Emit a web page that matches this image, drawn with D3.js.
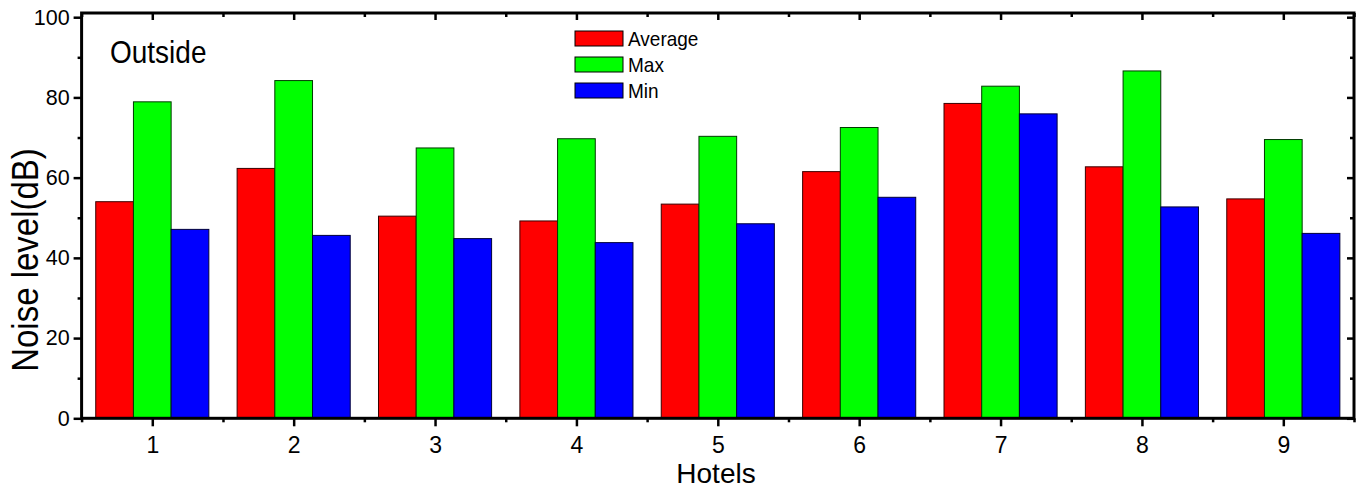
<!DOCTYPE html>
<html><head><meta charset="utf-8">
<script src="https://cdn.jsdelivr.net/npm/d3@7"></script>
<style>body{margin:0;background:#fff}svg{display:block}text{font-family:"Liberation Sans",Arial,sans-serif;fill:#000}</style>
</head><body>
<svg id="c" width="1360" height="489"></svg>
<script>
const categories = ["1","2","3","4","5","6","7","8","9"];
const seriesNames = ["Average","Max","Min"];
const average = [54.0, 62.3, 50.4, 49.2, 53.4, 61.5, 78.5, 62.7, 54.7];
const maxv    = [78.9, 84.2, 67.4, 69.7, 70.3, 72.5, 82.8, 86.6, 69.5];
const minv    = [47.1, 45.6, 44.8, 43.8, 48.5, 55.1, 75.9, 52.7, 46.1];
const yTicks = [0, 20, 40, 60, 80, 100];
const colors = ["#ff0000", "#00ff00", "#0000ff"];
const strokes = ["#3a0000", "#003a00", "#00003a"];

(function () {
const svg = d3.select("#c");
const L = 81.6, R = 1354, T = 13, B = 418.3;
const x = d3.scaleLinear().domain([0.5, 9.5]).range([L, R]);
const y = d3.scaleLinear().domain([0, 100]).range([B, 17.2]);
const groupW = (x(2) - x(1)) * 0.8;
const xs = d3.scaleBand().domain(seriesNames).range([-groupW/2, groupW/2]).padding(0);
const seriesVals = [average, maxv, minv];

seriesNames.forEach((s, si) => {
  svg.append("g").selectAll("rect").data(seriesVals[si]).join("rect")
    .attr("x", (d, i) => x(i + 1) + xs(s))
    .attr("y", d => y(d))
    .attr("width", xs.bandwidth())
    .attr("height", d => B - y(d))
    .attr("fill", colors[si])
    .attr("stroke", strokes[si])
    .attr("stroke-width", 1);
});

const majorX = categories.map((c, i) => i + 1);
const minorX = d3.range(0.5, 9.6, 1);
const minorY = d3.range(10, 100, 20);

function ax(axisFn, tx, ty, vals, size, fmt, fs, pad) {
  const a = axisFn.tickValues(vals).tickSize(size).tickPadding(pad || 4);
  a.tickFormat(fmt || "");
  const g = svg.append("g").attr("transform", `translate(${tx},${ty})`).call(a);
  g.select(".domain").remove();
  g.selectAll("line").attr("stroke-width", 2.5);
  if (fs) g.selectAll("text").attr("font-size", fs).attr("font-family", "Liberation Sans");
  return g;
}
ax(d3.axisBottom(x), 0, B, majorX, 8, (d, i) => categories[i], 23, 10);
ax(d3.axisBottom(x), 0, B, minorX, 4);
ax(d3.axisBottom(x), 0, T, majorX, 7);
ax(d3.axisBottom(x), 0, T, minorX, 4);
ax(d3.axisLeft(y), L, 0, yTicks, 8, d => d, 21.5, 4);
ax(d3.axisLeft(y), L, 0, minorY, 4);
ax(d3.axisLeft(y), R, 0, yTicks, 7);
ax(d3.axisLeft(y), R, 0, minorY, 4);

svg.append("rect").attr("x", L).attr("y", T).attr("width", R - L).attr("height", B - T)
  .attr("fill", "none").attr("stroke", "#000").attr("stroke-width", 3);

svg.append("text").attr("transform", "translate(716,483)").attr("text-anchor", "middle")
  .attr("font-size", 28).text("Hotels");
svg.append("text").attr("transform", "translate(38,260) rotate(-90) scale(1,1.12)").attr("text-anchor", "middle")
  .attr("font-size", 33).text("Noise level(dB)");
svg.append("text").attr("transform", "translate(110,63) scale(1,1.12)")
  .attr("font-size", 28).text("Outside");

const lg = svg.append("g");
seriesNames.forEach((s, i) => {
  const yy = 31 + i * 26;
  lg.append("rect").attr("x", 575).attr("y", yy).attr("width", 48).attr("height", 15)
    .attr("fill", colors[i]).attr("stroke", "#000").attr("stroke-width", 1);
  lg.append("text").attr("transform", `translate(628,${yy + 15}) scale(1,1.1)`).attr("font-size", 19).text(s);
});
})();
</script>
</body></html>
